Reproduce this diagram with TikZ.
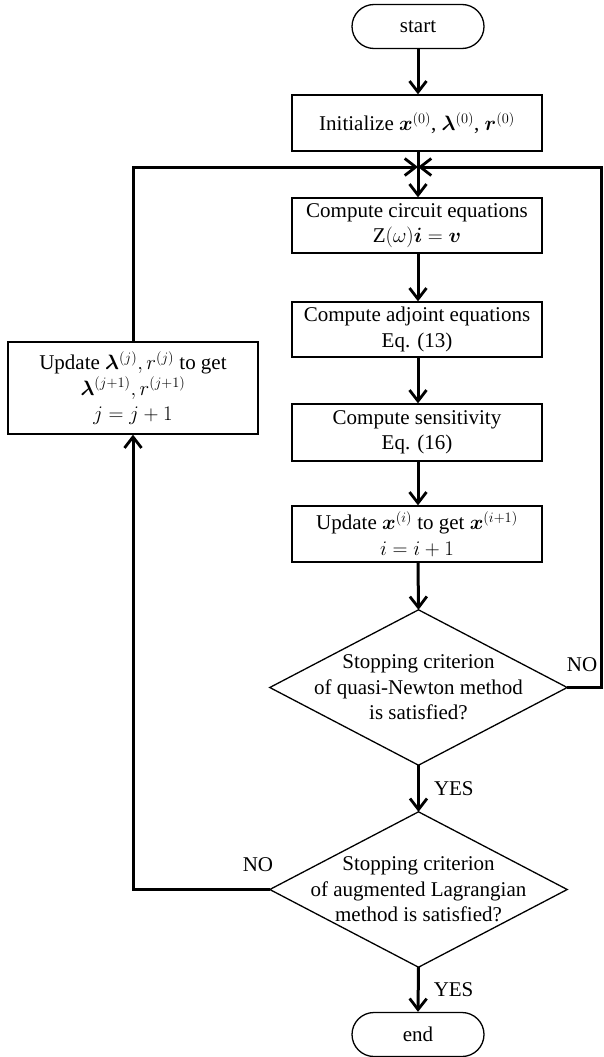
\documentclass[tikz,border=0pt]{standalone}
\usepackage{amsmath}
\usepackage{bm}
\usepackage{fontspec}
\setmainfont{Liberation Serif}
\usetikzlibrary{arrows.meta,shapes.misc,calc}
\begin{document}
\begin{tikzpicture}[x=1pt,y=-1pt,
  every node/.style={font=\fontsize{21}{25.5}\selectfont},
  procbox/.style={draw, line width=1.3pt, rectangle, minimum width=250pt, align=center, inner sep=0pt},
  pill/.style={draw, line width=1.3pt, rounded rectangle, minimum width=132pt, minimum height=44pt, inner sep=0pt},
  decbox/.style={rectangle, minimum width=297pt, minimum height=155pt, align=center, inner sep=0pt},
  decline/.style={line width=1.3pt, line join=miter},
  conn/.style={line width=3pt, -{Straight Barb[length=11pt,width=17pt,line width=2.8pt]}},
  lbl/.style={inner sep=0pt}]
\useasboundingbox (0,0) rectangle (603,1057);

\node[pill] (start) at (418,26.5) {start};
\node[procbox, minimum height=56pt] (init) at (417,123) {Initialize $\bm{x}^{(0)}$, $\bm{\lambda}^{(0)}$, $\bm{r}^{(0)}$};
\node[procbox, minimum height=55pt] (circ) at (417,225.5) {Compute circuit equations\\$\mathrm{Z}(\omega)\bm{i}=\bm{v}$};
\node[procbox, minimum height=55pt] (adj) at (417,329.5) {Compute adjoint equations\\Eq. (13)};
\node[procbox, minimum height=57pt] (sens) at (417,432.5) {Compute sensitivity\\Eq. (16)};
\node[procbox, minimum height=56pt] (upx) at (417,534) {Update $\bm{x}^{(i)}$ to get $\bm{x}^{(i+1)}$\\$i=i+1$};
\node[decbox] (d1) at (418.5,687.5) {Stopping criterion\\of quasi-Newton method\\is satisfied?};
\node[decbox] (d2) at (418.5,889.5) {Stopping criterion\\of augmented Lagrangian\\method is satisfied?};
\node[pill] (end) at (418,1034.5) {end};
\node[procbox, minimum height=92pt] (upj) at (133,388) {Update $\bm{\lambda}^{(j)}, r^{(j)}$ to get\\$\bm{\lambda}^{(j+1)}, r^{(j+1)}$\\$j=j+1$};

\draw[decline] (d1.north) -- (d1.east) -- (d1.south) -- (d1.west) -- cycle;
\draw[decline] (d2.north) -- (d2.east) -- (d2.south) -- (d2.west) -- cycle;

\coordinate (junc) at (418,167);
\coordinate (rx) at (601.5,167);
\coordinate (mx) at (418,0);

\draw[conn] (start.south) -- (start.south |- init.north);
\draw[conn] (init.south -| mx) -- (circ.north -| mx);
\draw[conn] (circ.south -| mx) -- (adj.north -| mx);
\draw[conn] (adj.south -| mx) -- (sens.north -| mx);
\draw[conn] (sens.south -| mx) -- (upx.north -| mx);
\draw[conn] (upx.south -| mx) -- (d1.north);
\draw[conn] (d1.south) -- node[lbl, anchor=west, xshift=14pt]{YES} (d2.north);
\draw[conn] (d2.south) -- node[lbl, anchor=west, xshift=14pt]{YES} (end.north);

\draw[conn] (upj.north) -- (upj.north |- junc) -- (junc);
\draw[conn] (d1.east) -- (d1.east -| rx) -- (rx) -- (junc);
\draw[conn] (d2.west) -- (upj.south |- d2.west) -- (upj.south);

\node[lbl] (no1) at (582,665) {NO};
\node[lbl] (no2) at (258,865) {NO};
\end{tikzpicture}
\end{document}
